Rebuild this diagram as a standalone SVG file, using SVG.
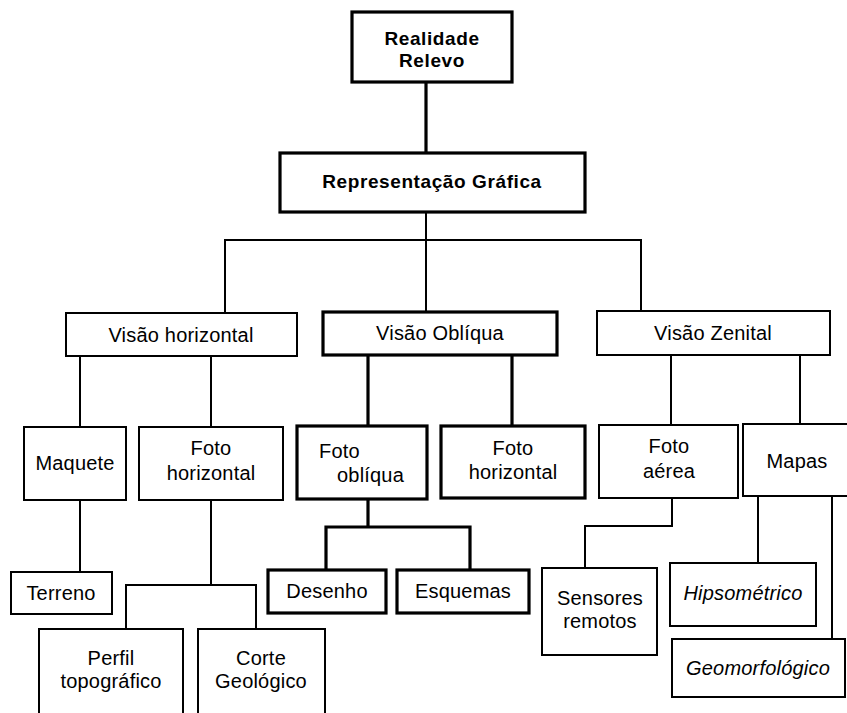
<svg xmlns="http://www.w3.org/2000/svg" width="847" height="713" viewBox="0 0 847 713">
<style>
  .bx { fill: #fff; stroke: #000; stroke-width: 2; }
  .bk { fill: #fff; stroke: #000; stroke-width: 3.2; }
  .ln { fill: none; stroke: #000; stroke-width: 2; }
  .lk { fill: none; stroke: #000; stroke-width: 3.2; }
  text { font-family: "Liberation Sans", Arial, sans-serif; font-size: 20px; fill: #000; text-anchor: middle; letter-spacing: 0.2px; }
  .b { font-weight: bold; font-size: 19px; letter-spacing: 0.6px; }
  .it { font-style: italic; }
  .st { text-anchor: start; }
</style>
<rect width="847" height="713" fill="#fff"/>
<g id="connectors">
  <path class="lk" d="M426 82 V153"/>
  <path class="ln" d="M426 212 V312"/>
  <path class="ln" d="M225 313 V240 H641 V311"/>
  <path class="ln" d="M80 356 V427"/>
  <path class="ln" d="M211 356 V427"/>
  <path class="lk" d="M368 355 V426"/>
  <path class="lk" d="M512 355 V426"/>
  <path class="ln" d="M671 355 V425"/>
  <path class="ln" d="M800 355 V424"/>
  <path class="ln" d="M80 500 V572"/>
  <path class="ln" d="M211 500 V585"/>
  <path class="ln" d="M126 629 V585 H256 V629"/>
  <path class="lk" d="M368 499 V527"/>
  <path class="lk" d="M326 570 V527 H470 V570"/>
  <path class="ln" d="M672 498 V526 H585 V568"/>
  <path class="ln" d="M758 496 V563"/>
  <path class="ln" d="M832 496 V639"/>
</g>
<g id="realidade"><rect class="bk" x="352" y="12" width="160" height="70"/><text class="b" x="432" y="45">Realidade</text><text class="b" x="432" y="67">Relevo</text></g>
<g id="representacao"><rect class="bk" x="280" y="153" width="305" height="59"/><text class="b" x="432" y="188">Representação Gráfica</text></g>
<g id="visao-horizontal"><rect class="bx" x="66" y="313" width="231" height="43"/><text x="181" y="342">Visão horizontal</text></g>
<g id="visao-obliqua"><rect class="bk" x="323" y="312" width="234" height="43"/><text x="440" y="340">Visão Oblíqua</text></g>
<g id="visao-zenital"><rect class="bx" x="597" y="311" width="233" height="44"/><text x="713" y="340">Visão Zenital</text></g>
<g id="maquete"><rect class="bx" x="24" y="427" width="102" height="73"/><text x="75" y="470">Maquete</text></g>
<g id="foto-horizontal-1"><rect class="bx" x="139" y="427" width="144" height="73"/><text x="211" y="455">Foto</text><text x="211" y="480">horizontal</text></g>
<g id="foto-obliqua"><rect class="bk" x="297" y="426" width="130" height="73"/><text class="st" x="319" y="458">Foto</text><text class="st" x="337" y="482">oblíqua</text></g>
<g id="foto-horizontal-2"><rect class="bk" x="441" y="426" width="144" height="72"/><text x="513" y="455">Foto</text><text x="513" y="479">horizontal</text></g>
<g id="foto-aerea"><rect class="bx" x="599" y="425" width="139" height="73"/><text x="669" y="453">Foto</text><text x="669" y="478">aérea</text></g>
<g id="mapas"><rect class="bx" x="743" y="424" width="110" height="72"/><text x="797" y="468">Mapas</text></g>
<g id="terreno"><rect class="bx" x="11" y="572" width="101" height="42"/><text x="61" y="600">Terreno</text></g>
<g id="desenho"><rect class="bk" x="268" y="570" width="118" height="43"/><text x="327" y="598">Desenho</text></g>
<g id="esquemas"><rect class="bk" x="397" y="570" width="132" height="43"/><text x="463" y="598">Esquemas</text></g>
<g id="sensores"><rect class="bx" x="542" y="568" width="115" height="87"/><text x="600" y="605">Sensores</text><text x="600" y="628">remotos</text></g>
<g id="hipsometrico"><rect class="bx" x="670" y="563" width="146" height="63"/><text class="it" x="743" y="600">Hipsométrico</text></g>
<g id="geomorfologico"><rect class="bx" x="672" y="639" width="173" height="58"/><text class="it" x="758" y="675">Geomorfológico</text></g>
<g id="perfil"><rect class="bx" x="39" y="629" width="144" height="100"/><text x="111" y="665">Perfil</text><text x="111" y="688">topográfico</text></g>
<g id="corte"><rect class="bx" x="198" y="629" width="127" height="100"/><text x="261" y="665">Corte</text><text x="261" y="688">Geológico</text></g>
</svg>
